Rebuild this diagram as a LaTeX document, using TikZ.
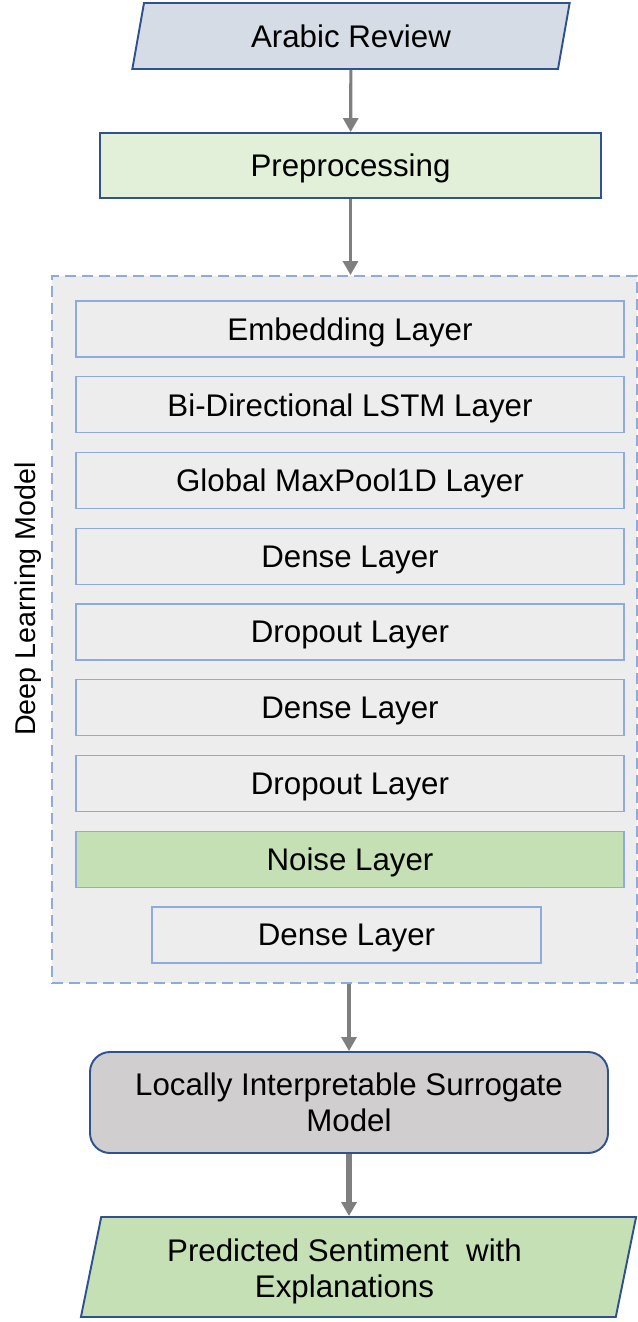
\documentclass[tikz,border=0pt]{standalone}
\usepackage{fontspec}
\setmainfont{Liberation Sans}
\usepackage{tikz}
\usetikzlibrary{positioning}
\usetikzlibrary{shapes.geometric,arrows.meta}
\definecolor{edgeblue}{HTML}{2F528F}
\definecolor{layerblue}{HTML}{8FAADC}
\definecolor{panelgrey}{HTML}{EDEDED}
\definecolor{reviewfill}{HTML}{D6DCE5}
\definecolor{prepfill}{HTML}{E2F0D9}
\definecolor{greenfill}{HTML}{C5E0B4}
\definecolor{surrfill}{HTML}{D0CECE}
\definecolor{arrowgrey}{HTML}{7F7F7F}
\tikzset{
    io/.style={
           trapezium,
           trapezium stretches=true,
           trapezium left angle=79,
           trapezium right angle=101,
           draw=edgeblue, line width=1.1pt,
           inner sep=2pt,
           text centered,
           },
    block/.style={
           rectangle,
           draw=edgeblue, line width=1.1pt,
           inner sep=2pt,
           text centered,
           },
    layer/.style={
              rectangle,
              draw=layerblue, line width=0.8pt,
              fill=panelgrey,
              minimum width=10.96cm,
              minimum height=1.12cm,
              inner sep=2pt,
              text depth=0pt
              },
    flow/.style={
                  draw=arrowgrey,
                  line width=1.8pt
                  },
}
\begin{document}
\begin{tikzpicture}[>={Triangle[length=0.28cm,width=0.3cm]}, node distance=1.515cm, on grid, font=\fontsize{17.8}{20.5}\selectfont]
   \useasboundingbox (0,0) rectangle (12.76,-26.44);
   \node[io, fill=reviewfill, minimum width=8.76cm, minimum height=1.32cm] (0) at (7.02,-0.72) {Arabic Review};
   \node[block, fill=prepfill, minimum width=10.02cm, minimum height=1.30cm, text depth=0pt] (1) at (7.01,-3.31) {Preprocessing};
   \node[rectangle, draw=layerblue, dash pattern=on 0.22cm off 0.12cm, line width=1.1pt, fill=panelgrey, minimum width=11.70cm, minimum height=14.14cm] (2) at (6.89,-12.59) {};
   \node[layer] (3) at (7.0,-6.58) {Embedding Layer};
   \node[layer] (4) [below=of 3]  {Bi-Directional LSTM Layer};
   \node[layer] (5) [below=of 4]  {Global MaxPool1D Layer};
   \node[layer] (6) [below=of 5]  {Dense Layer};
   \node[layer] (7) [below=of 6]  {Dropout Layer};
   \node[layer] (8) [below=of 7]  {Dense Layer};
   \node[layer] (9) [below=of 8]  {Dropout Layer};
   \node[layer, fill=greenfill] (10) [below=of 9] {Noise Layer};
   \node[layer, minimum width=7.78cm] (11) [below=of 10, xshift=-0.07cm] {Dense Layer};
   \node[rotate=90, font=\fontsize{16.3}{19}\selectfont] (12) at (0.56,-11.98) {Deep Learning Model};
   \node[block, rounded corners=0.4cm, fill=surrfill, minimum width=10.36cm, minimum height=2.02cm, align=center] (13) at (6.98,-22.05) {Locally Interpretable Surrogate\\Model};
   \node[io, fill=greenfill, minimum width=11.14cm, minimum height=2.0cm] (14) at (7.17,-25.34)
        {\raisebox{-0.1cm}[\height][\depth]{\begin{tabular}{@{}c@{}}Predicted Sentiment\ \ with\\Explanations\end{tabular}}\hspace*{0.56cm}};

   % connectors
   \draw[->, flow] (0) -- (1);
   \draw[->, flow] (1.south) -- (1.south |- 2.north);
   \draw[->, flow] (13.north |- 2.south) -- (13.north);
   \draw[->, flow, line width=3pt] (13.south) -- (13.south |- 14.north);
\end{tikzpicture}
\end{document}
